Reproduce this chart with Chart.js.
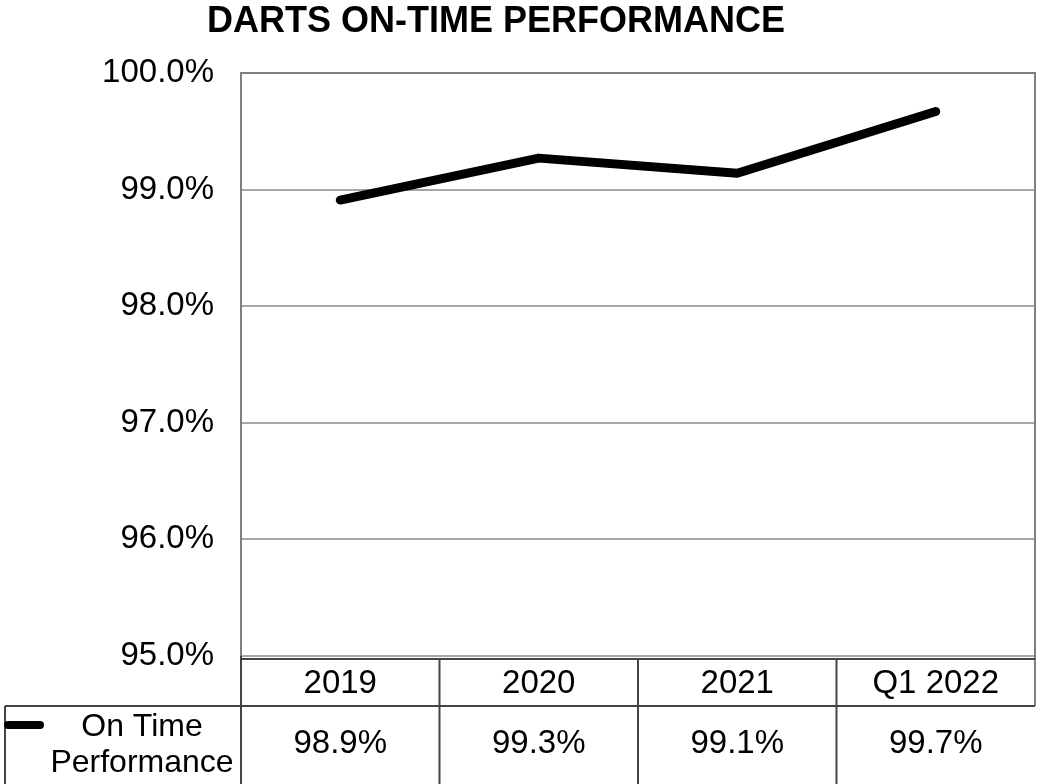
<!DOCTYPE html>
<html>
<head>
<meta charset="utf-8">
<script src="https://cdn.jsdelivr.net/npm/chart.js@4/dist/chart.umd.min.js"></script>
<style>
  html, body { margin: 0; padding: 0; background: #fff; }
  #wrap { width: 1037px; height: 784px; }
</style>
</head>
<body>
<div id="wrap"><canvas id="chart" width="1037" height="784"></canvas></div>
<script>
const chartTitle = 'DARTS ON-TIME PERFORMANCE';
const categories = ['2019', '2020', '2021', 'Q1 2022'];
const seriesName = ['On Time', 'Performance'];
const onTime = [98.91, 99.27, 99.14, 99.67];
const yMin = 95;
const yMax = 100;
const yStep = 1;

const FONT = "'Liberation Sans', Arial, sans-serif";

// draws title, plot frame and the data table under the plot
const tablePlugin = {
  id: 'dataTable',
  afterDraw(chart) {
    const ctx = chart.ctx;
    const area = chart.chartArea;
    const xs = chart.scales.x;
    const rowTop = area.bottom + 3;
    const rowMid = 706;
    const rowEnd = 784;
    const legLeft = 5;

    ctx.save();
    // title
    ctx.fillStyle = '#000';
    ctx.font = 'bold 36px ' + FONT;
    ctx.textAlign = 'center';
    ctx.textBaseline = 'middle';
    ctx.fillText(chartTitle, 496, 22);

    // top + right frame
    ctx.strokeStyle = '#7f7f7f';
    ctx.lineWidth = 2;
    ctx.beginPath();
    ctx.moveTo(area.left, area.top);
    ctx.lineTo(area.right, area.top);
    ctx.lineTo(area.right, rowMid);
    ctx.stroke();

    // table lines
    ctx.strokeStyle = '#444';
    ctx.lineWidth = 2;
    ctx.beginPath();
    ctx.moveTo(area.left, rowTop);
    ctx.lineTo(area.right, rowTop);
    ctx.moveTo(legLeft, rowMid);
    ctx.lineTo(area.right, rowMid);
    ctx.moveTo(legLeft, rowMid);
    ctx.lineTo(legLeft, rowEnd);
    ctx.moveTo(area.left, area.bottom);
    ctx.lineTo(area.left, rowEnd);
    for (let i = 1; i < categories.length; i++) {
      const bx = (xs.getPixelForValue(i - 1) + xs.getPixelForValue(i)) / 2;
      ctx.moveTo(bx, rowTop);
      ctx.lineTo(bx, rowEnd);
    }
    ctx.stroke();

    // header + values
    ctx.fillStyle = '#000';
    ctx.font = '33px ' + FONT;
    ctx.textAlign = 'center';
    categories.forEach((c, i) => {
      const cx = xs.getPixelForValue(i);
      ctx.fillText(c, cx, 684);
      ctx.fillText(onTime[i].toFixed(1) + '%', cx, 744);
    });

    // legend key
    const ds = chart.data.datasets[0];
    ctx.strokeStyle = ds.borderColor;
    ctx.lineWidth = 8;
    ctx.lineCap = 'round';
    ctx.beginPath();
    ctx.moveTo(legLeft + 3, 725);
    ctx.lineTo(40, 725);
    ctx.stroke();

    ctx.font = '32px ' + FONT;
    const lx = (43 + area.left) / 2;
    ctx.fillText(seriesName[0], lx, 727);
    ctx.fillText(seriesName[1], lx, 763);
    ctx.restore();
  }
};

new Chart(document.getElementById('chart'), {
  type: 'line',
  data: {
    labels: categories,
    datasets: [{
      label: seriesName.join(' '),
      data: onTime,
      borderColor: '#000',
      borderWidth: 9,
      borderCapStyle: 'round',
      borderJoinStyle: 'round',
      pointRadius: 0,
      tension: 0
    }]
  },
  options: {
    responsive: false,
    animation: false,
    layout: { padding: { top: 73, bottom: 128, left: 0, right: 2 } },
    plugins: { legend: { display: false }, title: { display: false }, tooltip: { enabled: false } },
    scales: {
      x: { display: false, offset: true },
      y: {
        min: yMin,
        max: yMax,
        afterFit(scale) { scale.width = 241; },
        ticks: {
          stepSize: yStep,
          padding: 27,
          color: '#000',
          font: { family: FONT, size: 33 },
          callback: v => v.toFixed(1) + '%'
        },
        grid: {
          drawTicks: false,
          color: '#a6a6a6',
          lineWidth: 2
        },
        border: { color: '#7f7f7f', width: 2 }
      }
    }
  },
  plugins: [tablePlugin]
});
</script>
</body>
</html>
